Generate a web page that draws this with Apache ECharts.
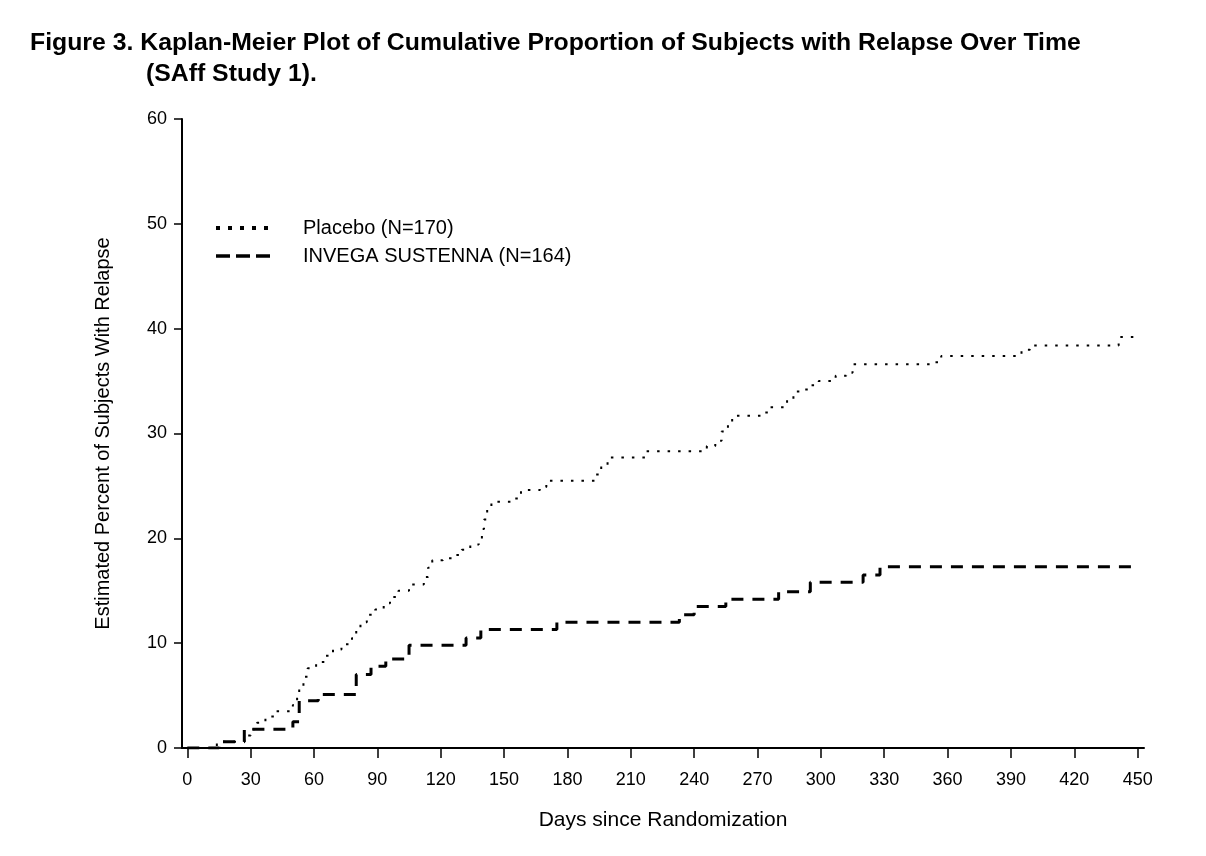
<!DOCTYPE html>
<html>
<head>
<meta charset="utf-8">
<script src="https://cdn.jsdelivr.net/npm/echarts@6/dist/echarts.min.js"></script>
<style>
html,body{margin:0;padding:0;background:#fff;}
#chart{width:1206px;height:856px;}
</style>
</head>
<body>
<div id="chart"></div>
<script>
// ---- Data ----
var titleLine1 = 'Figure 3. Kaplan-Meier Plot of Cumulative Proportion of Subjects with Relapse Over Time';
var titleLine2 = '(SAff Study 1).';
var xAxisTitle = 'Days since Randomization';
var yAxisTitle = 'Estimated Percent of Subjects With Relapse';
var xTickValues = [0, 30, 60, 90, 120, 150, 180, 210, 240, 270, 300, 330, 360, 390, 420, 450];
var seriesNames = ['Placebo (N=170)', 'INVEGA SUSTENNA (N=164)'];

var placeboDays = [0, 14, 27, 30, 33, 37, 41, 50, 52, 53, 55, 57, 61, 65, 69, 73, 78, 80, 82, 85, 89, 93, 96, 100, 105, 112, 114, 116, 121, 126, 130, 134, 138, 139.5, 140.5, 142, 144, 154, 158, 167, 170, 193, 196, 199, 217, 246, 250, 253, 256, 258, 272, 276, 284, 287, 291, 295, 299, 307, 312, 315, 353, 357, 395, 399, 441, 448];
var placeboPct  = [0, 0.6, 1.2, 1.8, 2.4, 3.0, 3.5, 4.1, 5.0, 5.9, 6.8, 7.6, 8.2, 8.8, 9.4, 9.9, 10.5, 11.2, 12.0, 12.7, 13.2, 13.8, 14.4, 15.0, 15.6, 16.3, 17.2, 17.9, 18.1, 18.4, 18.9, 19.4, 19.9, 20.9, 21.8, 22.8, 23.5, 23.8, 24.6, 24.9, 25.5, 26.1, 26.9, 27.7, 28.3, 28.8, 29.3, 30.2, 31.0, 31.7, 32.0, 32.5, 33.2, 34.0, 34.2, 34.6, 35.0, 35.5, 35.8, 36.6, 36.8, 37.4, 38.0, 38.4, 39.2, 39.2];

var invegaDays = [0, 15, 27, 50, 53, 62, 80, 87, 94, 105, 132, 139, 175, 233, 240, 255, 280, 295, 320, 328, 450];
var invegaPct  = [0, 0.6, 1.8, 2.5, 4.5, 5.1, 7.0, 7.8, 8.5, 9.8, 10.5, 11.3, 12.0, 12.7, 13.5, 14.2, 14.9, 15.8, 16.5, 17.3, 17.3];

function zip(a, b) { return a.map(function (v, i) { return [v, b[i]]; }); }

var FONT = "'Liberation Sans', Arial, Helvetica, sans-serif";
var chart = echarts.init(document.getElementById('chart'), null, {renderer: 'canvas'});

var option = {
  animation: false,
  backgroundColor: '#ffffff',
  title: [
    {text: titleLine1, left: 30, top: 31, padding: 0, textStyle: {fontFamily: FONT, fontSize: 24.8, fontWeight: 'bold', color: '#000'}},
    {text: titleLine2, left: 146, top: 62, padding: 0, textStyle: {fontFamily: FONT, fontSize: 24.8, fontWeight: 'bold', color: '#000'}}
  ],
  graphic: [
    {type: 'line', shape: {x1: 216, y1: 228, x2: 276, y2: 228}, style: {stroke: '#000', lineWidth: 4, lineDash: [4, 8]}},
    {type: 'line', shape: {x1: 216, y1: 256, x2: 276, y2: 256}, style: {stroke: '#000', lineWidth: 3.5, lineDash: [14, 6]}},
    {type: 'text', x: 303, y: 228, style: {text: seriesNames[0], font: "20px 'Liberation Sans', Arial, sans-serif", fill: '#000', verticalAlign: 'middle', align: 'left'}},
    {type: 'text', x: 303, y: 256, style: {text: seriesNames[1], font: "20px 'Liberation Sans', Arial, sans-serif", fill: '#000', verticalAlign: 'middle', align: 'left'}}
  ],
  grid: {left: 182, right: 62, top: 119, bottom: 108, containLabel: false, outerBoundsMode: 'none'},
  xAxis: {
    type: 'value',
    min: -2.5,
    max: 453,
    name: xAxisTitle,
    nameLocation: 'middle',
    nameGap: 62,
    nameTextStyle: {fontFamily: FONT, fontSize: 21, color: '#000'},
    axisLine: {show: true, onZero: false, lineStyle: {color: '#000', width: 2}},
    axisTick: {show: true, inside: false, length: 10, customValues: xTickValues, lineStyle: {color: '#000', width: 1.5}},
    axisLabel: {customValues: xTickValues, fontFamily: FONT, fontSize: 18, color: '#000', margin: 23},
    splitLine: {show: false}
  },
  yAxis: {
    type: 'value',
    min: 0,
    max: 60,
    interval: 10,
    name: yAxisTitle,
    nameLocation: 'middle',
    nameGap: 69,
    nameRotate: 90,
    nameTextStyle: {fontFamily: FONT, fontSize: 20, color: '#000'},
    axisLine: {show: true, onZero: false, lineStyle: {color: '#000', width: 2}},
    axisTick: {show: true, inside: false, length: 8, lineStyle: {color: '#000', width: 1.5}},
    axisLabel: {fontFamily: FONT, fontSize: 18, color: '#000', margin: 15},
    splitLine: {show: false}
  },
  series: [
    {
      name: seriesNames[0],
      type: 'line',
      step: 'end',
      symbol: 'none',
      data: zip(placeboDays, placeboPct),
      lineStyle: {color: '#000', width: 2, type: [2.5, 8]},
      itemStyle: {color: '#000'}
    },
    {
      name: seriesNames[1],
      type: 'line',
      step: 'end',
      symbol: 'none',
      data: zip(invegaDays, invegaPct),
      lineStyle: {color: '#000', width: 3, type: [12, 9]},
      itemStyle: {color: '#000'}
    }
  ]
};
chart.setOption(option);
</script>
</body>
</html>
